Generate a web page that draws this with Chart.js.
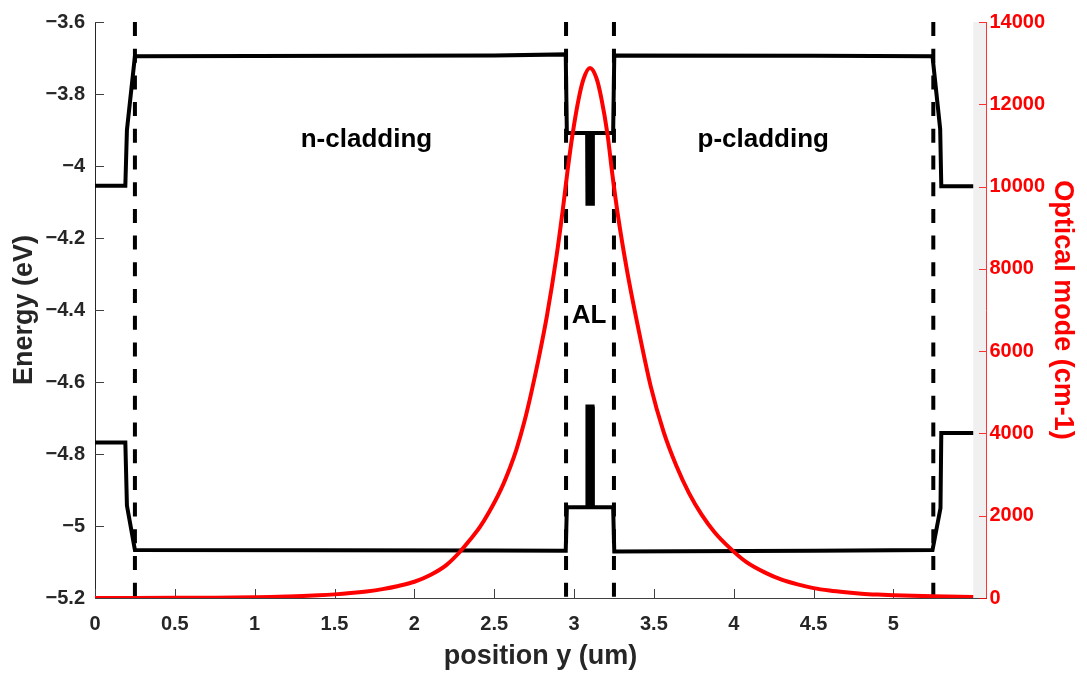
<!DOCTYPE html>
<html>
<head>
<meta charset="utf-8">
<script src="https://cdn.jsdelivr.net/npm/chart.js@4.4.1/dist/chart.umd.min.js"></script>
<style>
body{margin:0;background:#fff}
canvas{display:block}
</style>
</head>
<body>
<canvas id="bandChart" width="1087" height="675"></canvas>
<script>
// axis ticks
const xTicks = [0, 0.5, 1, 1.5, 2, 2.5, 3, 3.5, 4, 4.5, 5]
const energyTicks = [-5.2, -5, -4.8, -4.6, -4.4, -4.2, -4, -3.8, -3.6]
const modeTicks = [0, 2000, 4000, 6000, 8000, 10000, 12000, 14000]

// layer interfaces (um)
const interfaces = [0.25, 2.95, 3.25, 5.25]

// conduction band edge
const cbX = [0, 0.19, 0.20, 0.25, 2.5, 2.948, 2.955,
  3.082, 3.084, 3.090, 3.092, 3.095, 3.097, 3.103, 3.105, 3.108, 3.110, 3.116, 3.118,
  3.245, 3.252, 4.5, 5.245, 5.293, 5.30, 5.5]
const cbE = [-4.055, -4.055, -3.900, -3.695, -3.693, -3.690, -3.908,
  -3.908, -4.105, -4.105, -3.908, -3.908, -4.105, -4.105, -3.908, -3.908, -4.105, -4.105, -3.908,
  -3.908, -3.693, -3.694, -3.695, -3.897, -4.056, -4.056]

// valence band edge
const vbX = [0, 0.19, 0.20, 0.25, 2.5, 2.948, 2.955,
  3.082, 3.084, 3.090, 3.092, 3.095, 3.097, 3.103, 3.105, 3.108, 3.110, 3.116, 3.118,
  3.245, 3.252, 4.5, 5.245, 5.295, 5.30, 5.5]
const vbE = [-4.768, -4.768, -4.943, -5.067, -5.068, -5.069, -4.948,
  -4.948, -4.668, -4.668, -4.948, -4.948, -4.668, -4.668, -4.948, -4.948, -4.668, -4.668, -4.948,
  -4.948, -5.071, -5.069, -5.067, -4.950, -4.742, -4.742]

// optical mode (cm-1)
const modeX = [0, 0.25, 0.5, 0.75, 1.0, 1.1, 1.2, 1.3, 1.4, 1.5, 1.6, 1.7, 1.8, 1.9, 2.0, 2.1, 2.2,
  2.28, 2.35, 2.41, 2.47, 2.54, 2.6, 2.64, 2.69, 2.73, 2.78, 2.83, 2.89, 2.93, 2.96, 2.99, 3.03, 3.06,
  3.10, 3.14, 3.17, 3.21, 3.24, 3.275, 3.33, 3.40, 3.48, 3.56, 3.64, 3.72, 3.80, 3.88, 3.98, 4.08,
  4.2, 4.3, 4.4, 4.5, 4.6, 4.7, 4.8, 4.9, 5.0, 5.25, 5.5]
const modeVal = [1, 2, 4, 9, 20, 26, 36, 48, 65, 88, 119, 160, 216, 293, 395, 560, 800,
  1100, 1420, 1720, 2100, 2620, 3180, 3620, 4300, 4950, 5850, 6850, 8300, 9450, 10400, 11250, 12150, 12620,
  12880, 12640, 12170, 11260, 10300, 9300, 8000, 6600, 5150, 4050, 3220, 2550, 2020, 1600, 1200, 870,
  610, 445, 330, 240, 180, 138, 106, 84, 68, 40, 24]

const regionNames = ['n-cladding', 'p-cladding', 'AL']

const FONT = "'Liberation Sans', Arial, Helvetica, sans-serif"
const pts = (xs, ys) => xs.map((x, i) => ({x: x, y: ys[i]}))
const fmt = v => String(v).replace('-', '\u2212')

const labelSpots = [[1.70, -3.948], [4.185, -3.948], [3.094, -4.435]]

const axisDecor = {
  id: 'axisDecor',
  beforeDatasetsDraw(chart) {
    const {ctx, chartArea: a, scales} = chart
    const xEnd = scales.x.getPixelForValue(cbX[cbX.length - 1])
    ctx.save()
    ctx.fillStyle = '#f0f0f0'
    ctx.fillRect(xEnd, a.top, a.right - xEnd, a.bottom - a.top)
    ctx.lineWidth = 1
    ctx.strokeStyle = '#404040'
    ctx.beginPath()
    xTicks.forEach(v => {
      const p = Math.round(scales.x.getPixelForValue(v)) + 0.5
      ctx.moveTo(p, a.bottom); ctx.lineTo(p, a.bottom - 9)
    })
    energyTicks.forEach(v => {
      const p = Math.round(scales.y.getPixelForValue(v)) + 0.5
      ctx.moveTo(a.left, p); ctx.lineTo(a.left + 9, p)
    })
    ctx.stroke()
    ctx.strokeStyle = 'rgba(255,0,0,0.8)'
    ctx.beginPath()
    modeTicks.forEach(v => {
      const p = Math.round(scales.y2.getPixelForValue(v)) + 0.5
      ctx.moveTo(a.right, p); ctx.lineTo(a.right - 7, p)
    })
    ctx.stroke()
    ctx.restore()
  },
  afterDatasetsDraw(chart) {
    const {ctx, scales} = chart
    ctx.save()
    ctx.fillStyle = '#000'
    ctx.font = 'bold 26px ' + FONT
    ctx.textAlign = 'center'
    ctx.textBaseline = 'alphabetic'
    regionNames.forEach((t, i) => {
      ctx.fillText(t, scales.x.getPixelForValue(labelSpots[i][0]), scales.y.getPixelForValue(labelSpots[i][1]))
    })
    ctx.restore()
  }
}

const bandLine = {borderColor: '#000', borderWidth: 4, pointRadius: 0, tension: 0, yAxisID: 'y', fill: false}

let chart = new Chart(document.getElementById('bandChart').getContext('2d'), {
  type: 'line',
  data: {
    datasets: [
      {label: 'Optical mode', data: pts(modeX, modeVal), yAxisID: 'y2', borderColor: '#ff0000', borderWidth: 4,
        pointRadius: 0, cubicInterpolationMode: 'monotone', fill: false},
      Object.assign({label: 'Ec', data: pts(cbX, cbE)}, bandLine),
      Object.assign({label: 'Ev', data: pts(vbX, vbE)}, bandLine),
      ...interfaces.map(p => Object.assign({
        label: 'interface',
        data: [{x: p, y: energyTicks[energyTicks.length - 1]}, {x: p, y: energyTicks[0]}],
        borderDash: [14, 12.7]
      }, bandLine))
    ]
  },
  options: {
    responsive: false,
    animation: false,
    layout: {padding: {top: 18, left: 0, right: 0, bottom: 0}},
    plugins: {legend: {display: false}, tooltip: {enabled: false}},
    scales: {
      x: {
        type: 'linear', min: 0, max: 5.58,
        afterBuildTicks: s => { s.ticks = xTicks.map(v => ({value: v})) },
        afterFit: s => { s.height = 77 },
        grid: {display: false, drawTicks: false},
        border: {display: true, color: '#404040', width: 1},
        ticks: {color: '#262626', padding: 14, autoSkip: false, maxRotation: 0,
          font: {family: FONT, size: 20, weight: 'bold'}, callback: fmt},
        title: {display: true, text: 'position y (um)', color: '#262626',
          font: {family: FONT, size: 27, weight: 'bold'}, padding: {top: 0, bottom: 2}}
      },
      y: {
        type: 'linear', position: 'left', min: -5.2, max: -3.6,
        afterBuildTicks: s => { s.ticks = energyTicks.map(v => ({value: v})) },
        afterFit: s => { s.width = 95 },
        grid: {display: false, drawTicks: false},
        border: {display: true, color: '#262626', width: 1},
        ticks: {color: '#262626', padding: 10, autoSkip: false,
          font: {family: FONT, size: 20, weight: 'bold'}, callback: fmt},
        title: {display: true, text: 'Energy (eV)', color: '#262626',
          font: {family: FONT, size: 27, weight: 'bold'}, padding: {top: 8, bottom: 0}}
      },
      y2: {
        type: 'linear', position: 'right', min: 0, max: 14000,
        afterBuildTicks: s => { s.ticks = modeTicks.map(v => ({value: v})) },
        afterFit: s => { s.width = 101 },
        grid: {display: false, drawTicks: false},
        border: {display: true, color: 'rgba(255,0,0,0.8)', width: 1},
        ticks: {color: '#ff0000', padding: 3.5, autoSkip: false,
          font: {family: FONT, size: 20, weight: 'bold'}, callback: fmt},
        title: {display: true, text: 'Optical mode (cm-1)', color: '#ff0000',
          font: {family: FONT, size: 27, weight: 'bold'}, padding: {top: 8, bottom: 0}}
      }
    }
  },
  plugins: [axisDecor]
})
</script>
</body>
</html>
